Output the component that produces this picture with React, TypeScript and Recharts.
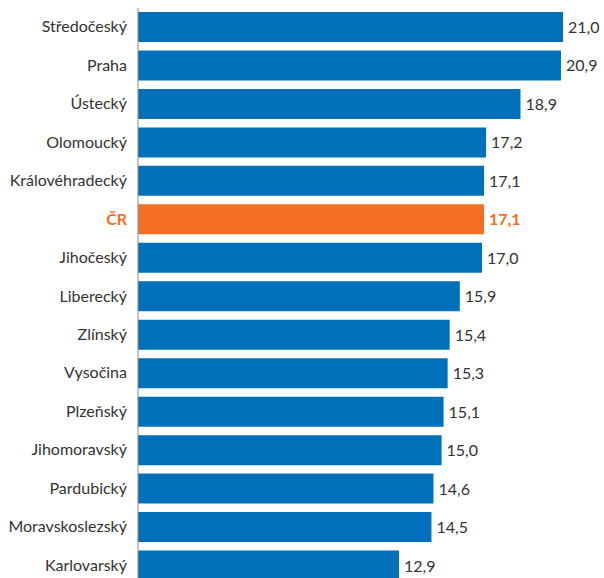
import { Bar, BarChart, Cell, LabelList, XAxis, YAxis } from "recharts"

const regions = [
  "Středočeský", "Praha", "Ústecký", "Olomoucký", "Královéhradecký", "ČR",
  "Jihočeský", "Liberecký", "Zlínský", "Vysočina", "Plzeňský", "Jihomoravský",
  "Pardubický", "Moravskoslezský", "Karlovarský",
]
const values = [21.0, 20.9, 18.9, 17.2, 17.1, 17.1, 17.0, 15.9, 15.4, 15.3, 15.1, 15.0, 14.6, 14.5, 12.9]
const highlight = "ČR"

const data = regions.map((name, i) => ({ name, value: values[i] }))

const BLUE = "#0070bb"
const ORANGE = "#f36f21"
const FONT = "Lato, 'Noto Sans', sans-serif"

function RegionTick({ x, y, payload }: any) {
  const hi = payload.value === highlight
  return (
    <text
      x={x}
      y={y}
      dy={5}
      textAnchor="end"
      fontSize={16}
      fontFamily={FONT}
      fontWeight={hi ? 700 : 400}
      fill={hi ? ORANGE : "#333"}
    >
      {payload.value}
    </text>
  )
}

function ValueLabel({ x, y, width, height, value, index }: any) {
  const hi = regions[index] === highlight
  return (
    <text
      x={x + width + 5}
      y={y + height / 2}
      dy={6}
      fontSize={16}
      fontFamily={FONT}
      fontWeight={hi ? 700 : 400}
      fill={hi ? ORANGE : "#333"}
    >
      {value.toFixed(1).replace(".", ",")}
    </text>
  )
}

export default function App() {
  return (
    <div style={{ position: "absolute", left: 0, top: 0, width: 604, height: 578, overflow: "hidden", background: "#fff" }}>
      <BarChart
        width={604}
        height={585}
        data={data}
        layout="vertical"
        margin={{ top: 8, right: 41, bottom: 0, left: 0 }}
      >
        <XAxis type="number" domain={[0, 21]} hide />
        <YAxis
          type="category"
          dataKey="name"
          width={138}
          tickLine={false}
          axisLine={{ stroke: "#8a8a8a", strokeWidth: 1 }}
          tick={<RegionTick />}
          tickMargin={5}
          interval={0}
        />
        <Bar dataKey="value" barSize={30} isAnimationActive={false}>
          {data.map((d) => (
            <Cell key={d.name} fill={d.name === highlight ? ORANGE : BLUE} />
          ))}
          <LabelList dataKey="value" content={<ValueLabel />} />
        </Bar>
      </BarChart>
    </div>
  )
}
